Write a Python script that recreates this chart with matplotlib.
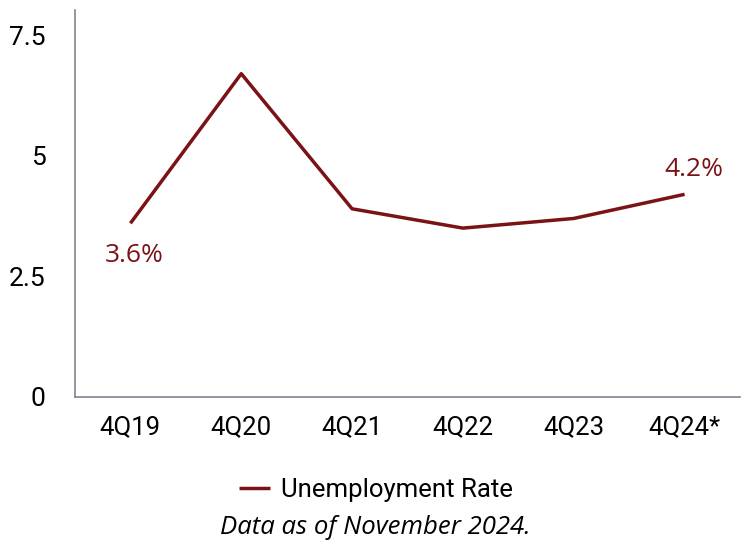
import matplotlib.pyplot as plt

quarters = ["4Q19", "4Q20", "4Q21", "4Q22", "4Q23", "4Q24*"]
unemployment = [3.6, 6.7, 3.9, 3.5, 3.7, 4.2]
yticks = [0, 2.5, 5, 7.5]
ytick_labels = ["0", "2.5", "5", "7.5"]

LINE = "#7a1216"
AXIS = "#7f868f"

fig = plt.figure(figsize=(7.45, 5.46), dpi=100)
ax = fig.add_axes([75 / 745, 149 / 546, 665 / 745, 387 / 546])

x = list(range(len(quarters)))
ax.plot(x, unemployment, color=LINE, lw=2.5, solid_capstyle="butt",
        label="Unemployment Rate")
ax.set_xlim(-0.5, len(quarters) - 0.5)
ax.set_ylim(0, 8.02)

ax.set_xticks(x)
ax.set_xticklabels(quarters, fontfamily="Roboto", fontsize=18.5)
ax.set_yticks(yticks)
ax.set_yticklabels(ytick_labels, fontfamily="Roboto", fontsize=19)
ax.tick_params(axis="both", length=0)
ax.tick_params(axis="x", pad=13)
ax.tick_params(axis="y", pad=21)

for s in ["top", "right"]:
    ax.spines[s].set_visible(False)
for s in ["left", "bottom"]:
    ax.spines[s].set_color(AXIS)
    ax.spines[s].set_linewidth(1.2)

# end labels
ax.annotate(f"{unemployment[0]}%", (x[0], unemployment[0]), xytext=(4, -32),
            textcoords="offset pixels", ha="center", va="center",
            color=LINE, fontsize=19, fontfamily="Open Sans")
ax.annotate(f"{unemployment[-1]}%", (x[-1], unemployment[-1]), xytext=(9, 25),
            textcoords="offset pixels", ha="center", va="center",
            color=LINE, fontsize=19, fontfamily="Open Sans")

fig.legend(loc="center", bbox_to_anchor=(376 / 745, 1 - 490 / 546),
           frameon=False, handlelength=1.2, handletextpad=0.4,
           prop={"family": "Roboto", "size": 18.5})
fig.text(375 / 745, 1 - 528 / 546, "Data as of November 2024.", ha="center",
         va="center", fontsize=18.5, fontstyle="italic", fontfamily="Open Sans")

fig.savefig("out.png", dpi=100)
